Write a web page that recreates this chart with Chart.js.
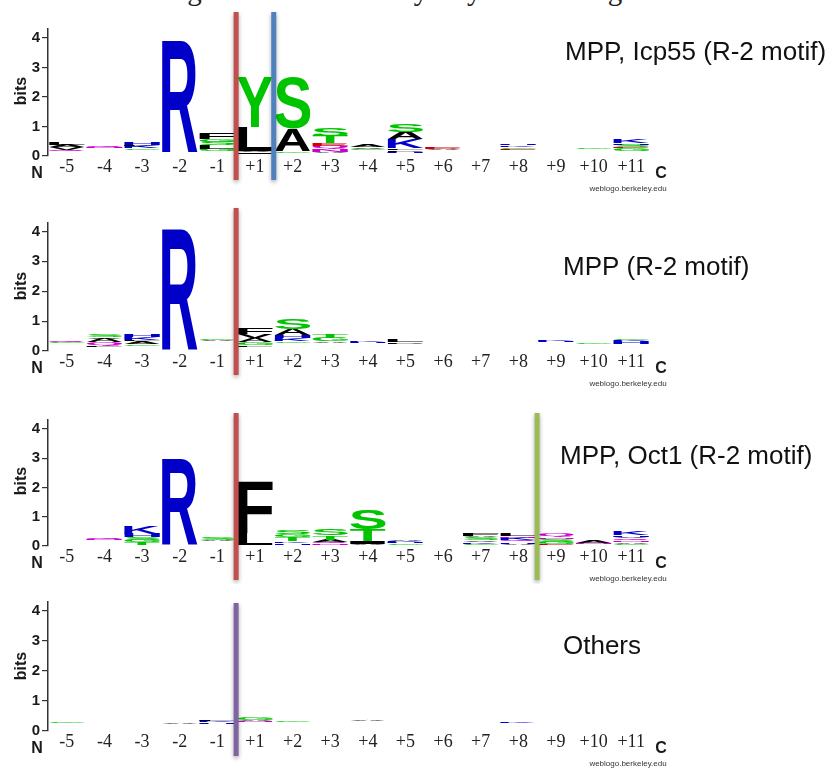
<!DOCTYPE html>
<html>
<head>
<meta charset="utf-8">
<script src="https://cdn.jsdelivr.net/npm/chart.js@4/dist/chart.umd.min.js"></script>
<style>
  html, body { margin: 0; padding: 0; background: #fff; width: 830px; height: 769px; overflow: hidden; }
  canvas.logo { position: absolute; left: 0; }
  #caption { position: absolute; left: 163px; top: -24px; font: 29px/29px "Liberation Serif", serif; color: #222; white-space: nowrap; }
</style>
</head>
<body>
<div id="caption">Figure 3. The diversity of yeast cleavage site</div>
<canvas id="logoIcp55" class="logo" width="830" height="188" style="top:6px"></canvas>
<canvas id="logoMpp" class="logo" width="830" height="188" style="top:201px"></canvas>
<canvas id="logoOct1" class="logo" width="830" height="188" style="top:396px"></canvas>
<canvas id="logoOthers" class="logo" width="830" height="188" style="top:581px"></canvas>
<script>
// Sequence positions around the cleavage site
const positions = ['-5', '-4', '-3', '-2', '-1', '+1', '+2', '+3', '+4', '+5', '+6', '+7', '+8', '+9', '+10', '+11'];
const yTicks = [0, 1, 2, 3, 4];

// Each panel: residues per position from bottom to top, their heights (bits),
// and the combined height of the residues too thin to be visible (floor).
const icp55Letters = ['QVAL', 'NQ', 'GKLH', 'R', 'GLSGF', 'IVLY', 'GAS', 'ANQETS', 'GVA', 'HPLKAS', 'ADE', '', 'EGKH', '', 'G', 'GESHK'];
const icp55Bits = [
  [0.06, 0.08, 0.08, 0.08], [0.02, 0.04], [0.06, 0.07, 0.04, 0.08], [3.8],
  [0.08, 0.12, 0.12, 0.1, 0.2], [0.05, 0.04, 0.8, 1.7], [0.06, 0.76, 1.72],
  [0.04, 0.1, 0.1, 0.1, 0.24, 0.26], [0.05, 0.05, 0.1], [0.04, 0.06, 0.06, 0.3, 0.24, 0.26],
  [0.04, 0.04, 0.04], [], [0.05, 0.06, 0.06, 0.04], [], [0.05], [0.08, 0.04, 0.08, 0.06, 0.14]
];
const icp55Floor = [0.15, 0.26, 0.2, 0.1, 0.16, 0.08, 0.1, 0.1, 0.2, 0.1, 0.2, 0, 0.2, 0, 0.22, 0.18];

const mppLetters = ['GQ', 'LQAVS', 'GALKH', 'R', 'AG', 'LGAVF', 'GKHAS', 'AGT', 'HK', 'PL', '', '', '', 'HK', 'G', 'HKG'];
const mppBits = [
  [0.03, 0.04], [0.05, 0.1, 0.12, 0.06, 0.08], [0.06, 0.08, 0.06, 0.08, 0.1], [4.06],
  [0.04, 0.02], [0.05, 0.1, 0.14, 0.14, 0.19], [0.05, 0.1, 0.1, 0.2, 0.35], [0.05, 0.12, 0.13],
  [0.03, 0.03], [0.06, 0.08], [], [], [], [0.03, 0.04], [0.04], [0.08, 0.05, 0.06]
];
const mppFloor = [0.27, 0.14, 0.18, 0, 0.33, 0.15, 0.28, 0.28, 0.26, 0.24, 0, 0, 0, 0.3, 0.24, 0.25];

const oct1Letters = ['', 'NQ', 'TGSHK', 'R', 'AS', 'LF', 'HKTGS', 'NQATS', 'AITS', 'GHKA', '', 'GKVSAF', 'AHQKNL', 'EGSNQ', 'NA', 'GANQVHK'];
const oct1Bits = [
  [], [0.04, 0.05], [0.1, 0.08, 0.1, 0.12, 0.26], [2.95],
  [0.03, 0.1], [0.44, 1.75], [0.06, 0.06, 0.14, 0.1, 0.14], [0.06, 0.06, 0.08, 0.14, 0.22],
  [0.06, 0.08, 0.4, 0.66], [0.04, 0.04, 0.05, 0.04], [], [0.05, 0.06, 0.06, 0.1, 0.06, 0.1],
  [0.06, 0.06, 0.07, 0.08, 0.06, 0.1], [0.05, 0.08, 0.1, 0.06, 0.13], [0.05, 0.08],
  [0.05, 0.06, 0.06, 0.07, 0.06, 0.05, 0.12]
];
const oct1Floor = [0, 0.2, 0.02, 0, 0.16, 0, 0.04, 0.02, 0.02, 0.05, 0, 0.02, 0.02, 0.02, 0.06, 0.02];

const othersLetters = ['G', '', '', 'A', 'HKL', 'NAG', 'G', '', 'A', '', '', '', 'K', '', '', ''];
const othersBits = [
  [0.04], [], [], [0.04], [0.04, 0.06, 0.02], [0.04, 0.04, 0.08], [0.04], [],
  [0.04], [], [], [], [0.04], [], [], []
];
const othersFloor = [0.27, 0, 0, 0.23, 0.25, 0.3, 0.3, 0, 0.32, 0, 0, 0, 0.28, 0, 0, 0];

// Residue colouring by chemical class
const residueColors = {
  G: '#00c400', S: '#00c400', T: '#00c400', Y: '#00c400', C: '#00c400',
  N: '#cc00cc', Q: '#cc00cc',
  K: '#0000c8', R: '#0000c8', H: '#0000c8',
  D: '#d00000', E: '#d00000',
  A: '#000', V: '#000', L: '#000', I: '#000', P: '#000', W: '#000', F: '#000', M: '#000'
};

const LETTER_FONT = 'bold 200px "Liberation Sans", Arial, sans-serif';
const glyphCache = {};
function glyphBox(ctx, ch) {
  if (!glyphCache[ch]) {
    ctx.save();
    ctx.font = LETTER_FONT;
    const m = ctx.measureText(ch);
    glyphCache[ch] = { l: m.actualBoundingBoxLeft, r: m.actualBoundingBoxRight, a: m.actualBoundingBoxAscent, d: m.actualBoundingBoxDescent };
    ctx.restore();
  }
  return glyphCache[ch];
}

// Stretch a letter so its ink fills the given rectangle exactly
function drawGlyph(ctx, ch, x0, y0, w, h, color) {
  if (!(h > 0) || !(w > 0)) return;
  const g = glyphBox(ctx, ch);
  ctx.save();
  ctx.font = LETTER_FONT;
  ctx.fillStyle = color;
  ctx.textAlign = 'left';
  ctx.textBaseline = 'alphabetic';
  ctx.translate(x0, y0);
  ctx.scale(w / (g.l + g.r), h / (g.a + g.d));
  ctx.fillText(ch, g.l, g.a);
  ctx.restore();
}

function buildLogo(canvasId, panel) {
  const depth = Math.max(...panel.letters.map(s => s.length));
  const datasets = [{
    label: 'floor', data: panel.floor, letters: positions.map(() => ''),
    backgroundColor: 'rgba(0,0,0,0)', borderWidth: 0
  }];
  for (let k = 0; k < depth; k++) {
    datasets.push({
      label: 'layer ' + (k + 1),
      data: panel.bits.map(b => (b[k] !== undefined ? b[k] : 0)),
      letters: panel.letters.map(s => s[k] || ''),
      backgroundColor: 'rgba(0,0,0,0)', borderWidth: 0
    });
  }

  const plotTop = 150 - 4.3 * panel.ppb;

  const logoPlugin = {
    id: 'logoLetters',
    afterDatasetsDraw(chart) {
      const ctx = chart.ctx;
      chart.data.datasets.forEach((ds, d) => {
        const meta = chart.getDatasetMeta(d);
        meta.data.forEach((bar, i) => {
          const ch = ds.letters[i];
          if (!ch) return;
          const p = bar.getProps(['x', 'y', 'base', 'width'], true);
          drawGlyph(ctx, ch, p.x - p.width / 2, p.y, p.width, p.base - p.y, residueColors[ch]);
        });
      });
    },
    afterDraw(chart) {
      const ctx = chart.ctx;
      const xs = chart.scales.x;
      const zero = chart.scales.y.getPixelForValue(0);
      ctx.save();
      // axis captions
      ctx.fillStyle = '#1a1a1a';
      ctx.font = 'bold 16px "Liberation Sans", Arial, sans-serif';
      ctx.textAlign = 'center';
      ctx.textBaseline = 'middle';
      ctx.fillText('N', 37, zero + 18);
      ctx.fillText('C', 661, zero + 18);
      ctx.save();
      ctx.translate(22, zero - 65);
      ctx.rotate(-Math.PI / 2);
      ctx.fillText('bits', 0, 0);
      ctx.restore();
      ctx.font = '8px "Liberation Sans", Arial, sans-serif';
      ctx.fillStyle = '#333';
      ctx.fillText('weblogo.berkeley.edu', 628, zero + 33);
      // panel title
      ctx.font = '26px "Liberation Sans", Arial, sans-serif';
      ctx.fillStyle = '#111';
      ctx.textAlign = 'left';
      ctx.fillText(panel.title, panel.titleX, zero + panel.titleDy);
      // cleavage-site markers between positions
      panel.cuts.forEach(cut => {
        const i = positions.indexOf(cut.after);
        const x = (xs.getPixelForValue(i) + xs.getPixelForValue(i + 1)) / 2;
        ctx.save();
        ctx.shadowColor = 'rgba(0,0,0,0.35)';
        ctx.shadowBlur = 4;
        ctx.shadowOffsetY = 2;
        ctx.fillStyle = cut.color;
        ctx.fillRect(x - 2.5, zero - panel.lineUp, 5, panel.lineUp + panel.lineDown);
        ctx.restore();
      });
      ctx.restore();
    }
  };

  return new Chart(document.getElementById(canvasId), {
    type: 'bar',
    data: { labels: positions, datasets },
    options: {
      responsive: false,
      maintainAspectRatio: false,
      animation: false,
      events: [],
      layout: { padding: { top: plotTop, bottom: 0, left: 0, right: 180 } },
      datasets: { bar: { barPercentage: 0.94, categoryPercentage: 1 } },
      plugins: { legend: { display: false }, tooltip: { enabled: false } },
      scales: {
        x: {
          stacked: true,
          afterFit(s) { s.height = 38; },
          border: { display: false },
          grid: { display: false, drawTicks: false },
          ticks: {
            autoSkip: false, maxRotation: 0, padding: 0, color: '#222',
            font: { family: '"Liberation Serif", serif', size: 18 }
          }
        },
        y: {
          stacked: true,
          min: 0,
          max: 4.3,
          afterFit(s) { s.width = 48; },
          afterBuildTicks(s) { s.ticks = yTicks.map(v => ({ value: v })); },
          border: { display: true, color: '#333', width: 1.5 },
          grid: { display: true, drawOnChartArea: false, drawTicks: true, tickLength: 6, color: '#333', lineWidth: 1.2 },
          ticks: {
            padding: 2, color: '#1a1a1a',
            font: { family: '"Liberation Sans", Arial, sans-serif', weight: 'bold', size: 15 }
          }
        }
      }
    },
    plugins: [logoPlugin]
  });
}

buildLogo('logoIcp55', {
  letters: icp55Letters, bits: icp55Bits, floor: icp55Floor, ppb: 29.5,
  title: 'MPP, Icp55 (R-2 motif)', titleX: 565, titleDy: -103,
  cuts: [{ after: '-1', color: '#c0504d' }, { after: '+1', color: '#4f81bd' }],
  lineUp: 144, lineDown: 24
});
buildLogo('logoMpp', {
  letters: mppLetters, bits: mppBits, floor: mppFloor, ppb: 29.9,
  title: 'MPP (R-2 motif)', titleX: 563, titleDy: -83,
  cuts: [{ after: '-1', color: '#c0504d' }],
  lineUp: 143, lineDown: 24
});
buildLogo('logoOct1', {
  letters: oct1Letters, bits: oct1Bits, floor: oct1Floor, ppb: 29.3,
  title: 'MPP, Oct1 (R-2 motif)', titleX: 560, titleDy: -89,
  cuts: [{ after: '-1', color: '#c0504d' }, { after: '+8', color: '#9bbb59' }],
  lineUp: 133, lineDown: 34
});
buildLogo('logoOthers', {
  letters: othersLetters, bits: othersBits, floor: othersFloor, ppb: 30,
  title: 'Others', titleX: 563, titleDy: -84,
  cuts: [{ after: '-1', color: '#8064a2' }],
  lineUp: 128, lineDown: 25
});
</script>
</body>
</html>
